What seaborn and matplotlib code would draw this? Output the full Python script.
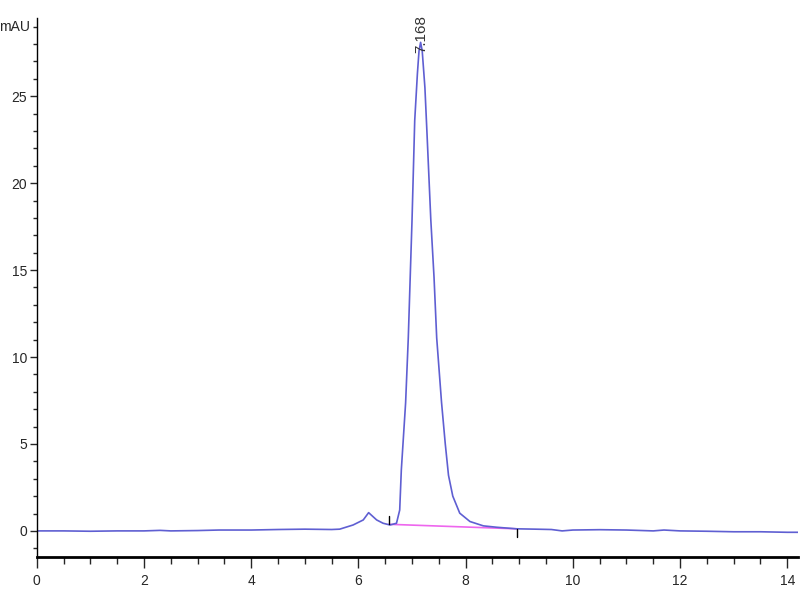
import matplotlib
matplotlib.use("Agg")
import matplotlib.pyplot as plt
from matplotlib.ticker import MultipleLocator
import seaborn as sns
import pandas as pd

time_min = [0, 0.5, 1.0, 1.5, 2.0, 2.3, 2.5, 3.0, 3.4, 4.0, 4.5, 5.0, 5.5, 5.65, 5.9, 6.09, 6.19,
            6.34, 6.46, 6.59, 6.71, 6.77, 6.80, 6.88, 6.93, 6.97, 7.00, 7.05, 7.10, 7.13, 7.16,
            7.19, 7.24, 7.28, 7.35, 7.41, 7.46, 7.55, 7.62, 7.68, 7.76, 7.89, 8.08, 8.33, 8.58,
            8.95, 9.3, 9.6, 9.8, 10.0, 10.5, 11.0, 11.5, 11.7, 12.0, 12.5, 13.0, 13.5, 14.0, 14.2]
absorbance = [0.0, 0.0, -0.02, 0.0, 0.0, 0.03, 0.0, 0.02, 0.05, 0.05, 0.08, 0.1, 0.08, 0.1, 0.34,
              0.63, 1.05, 0.63, 0.44, 0.34, 0.44, 1.2, 3.5, 7.36, 11.1, 15.0, 17.9, 23.6, 26.3,
              27.6, 28.1, 27.6, 25.5, 22.8, 17.9, 14.6, 11.1, 7.4, 5.0, 3.2, 2.0, 1.02, 0.54,
              0.29, 0.21, 0.12, 0.1, 0.08, 0.0, 0.05, 0.07, 0.05, 0.0, 0.05, 0.0, -0.02, -0.05,
              -0.05, -0.08, -0.08]

baseline_time = [6.57, 8.95]
baseline_abs = [0.38, 0.12]
peak_label = "7.168"
peak_time = 7.168
peak_height = 28.1

df = pd.DataFrame({"t": time_min, "a": absorbance})
bl = pd.DataFrame({"t": baseline_time, "a": baseline_abs})

sns.set_style("white")
plt.rcParams['font.family'] = ['Liberation Sans Narrow', 'Liberation Sans', 'DejaVu Sans']

fig = plt.figure(figsize=(8, 6), dpi=100)
ax = fig.add_axes([0.046, 0.0717, 0.9515, 0.8983])

sns.lineplot(data=bl, x="t", y="a", ax=ax, color="#ee66ee", linewidth=1.2, sort=False,
             estimator=None)
sns.lineplot(data=df, x="t", y="a", ax=ax, color="#5f5fd2", linewidth=1.2, sort=False,
             estimator=None)

# integration markers
ax.plot([baseline_time[0], baseline_time[0]], [baseline_abs[0], baseline_abs[0] + 0.45],
        color="black", lw=1)
ax.plot([baseline_time[1], baseline_time[1]], [baseline_abs[1], baseline_abs[1] - 0.45],
        color="black", lw=1)

ax.text(peak_time, peak_height - 0.6, peak_label, rotation=90, ha="center", va="bottom",
        fontsize=11, color="#333333", clip_on=False)

ax.set_xlim(0, 14.2)
ax.set_ylim(-1.5, 29.5)
ax.xaxis.set_major_locator(MultipleLocator(2))
ax.xaxis.set_minor_locator(MultipleLocator(0.5))
ax.yaxis.set_major_locator(MultipleLocator(5))
ax.yaxis.set_minor_locator(MultipleLocator(1))
ax.tick_params(axis="x", which="major", direction="out", length=8, width=1, labelsize=10,
               bottom=True, pad=4)
ax.tick_params(axis="x", which="minor", direction="out", length=5, width=1, bottom=True)
ax.tick_params(axis="y", which="major", direction="out", length=5, width=1, labelsize=10,
               left=True, pad=2)
ax.tick_params(axis="y", which="minor", direction="out", length=3, width=1, left=True)

for s in ["top", "right"]:
    ax.spines[s].set_visible(False)
ax.spines["bottom"].set_linewidth(2.0)
ax.spines["left"].set_linewidth(1.0)
for s in ["bottom", "left"]:
    ax.spines[s].set_color("black")

ax.set_xlabel("")
ax.set_ylabel("")
ax.text(-0.12, 29, "mAU", ha="right", va="center", fontsize=10, transform=ax.transData,
        clip_on=False)

fig.savefig("out.png", dpi=100)
